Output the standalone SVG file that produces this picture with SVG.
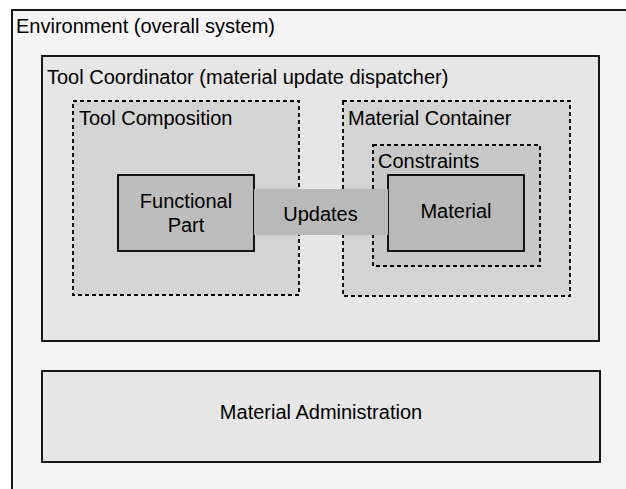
<svg xmlns="http://www.w3.org/2000/svg" width="626" height="489" viewBox="0 0 626 489">
  <style>
    .solid { stroke: #000; stroke-width: 1.8; }
    .dashed { stroke: #000; stroke-width: 1.8; stroke-dasharray: 4 3; }
    text { font-family: "Liberation Sans", Arial, sans-serif; font-size: 20px; fill: #000; }
    .mid { text-anchor: middle; }
  </style>
  <rect width="626" height="489" fill="#ffffff"/>

  <g id="environment">
    <rect x="12" y="10" width="640" height="500" fill="#f4f4f4" class="solid"/>
    <text x="16" y="33">Environment (overall system)</text>
  </g>

  <g id="tool-coordinator">
    <rect x="42" y="56" width="557" height="285" fill="#e6e6e6" class="solid"/>
    <text x="47" y="84">Tool Coordinator (material update dispatcher)</text>
  </g>

  <g id="tool-composition">
    <rect x="73" y="101" width="226" height="194" fill="#d4d4d4" class="dashed"/>
    <text x="79" y="125">Tool Composition</text>
  </g>

  <g id="material-container">
    <rect x="343" y="101" width="227" height="195" fill="#d4d4d4" class="dashed"/>
    <text x="348" y="125">Material Container</text>
  </g>

  <g id="constraints">
    <rect x="373" y="145" width="167" height="121" fill="#c8c8c8" class="dashed"/>
    <text x="378" y="168">Constraints</text>
  </g>

  <g id="functional-part">
    <rect x="118" y="175" width="136" height="76" fill="#bdbdbd" class="solid"/>
    <text class="mid" x="186" y="208">Functional</text>
    <text class="mid" x="186" y="232">Part</text>
  </g>

  <g id="material">
    <rect x="388" y="175" width="136" height="76" fill="#b9b9b9" class="solid"/>
    <text class="mid" x="456" y="218">Material</text>
  </g>

  <!-- update channel between the functional part and the material -->
  <g id="connectors">
    <rect x="254" y="189" width="134" height="46" fill="#b9b9b9"/>
    <text class="mid" x="320.5" y="221">Updates</text>
  </g>

  <g id="material-administration">
    <rect x="42" y="371" width="558" height="91" fill="#e6e6e6" class="solid"/>
    <text class="mid" x="321" y="419">Material Administration</text>
  </g>
</svg>
